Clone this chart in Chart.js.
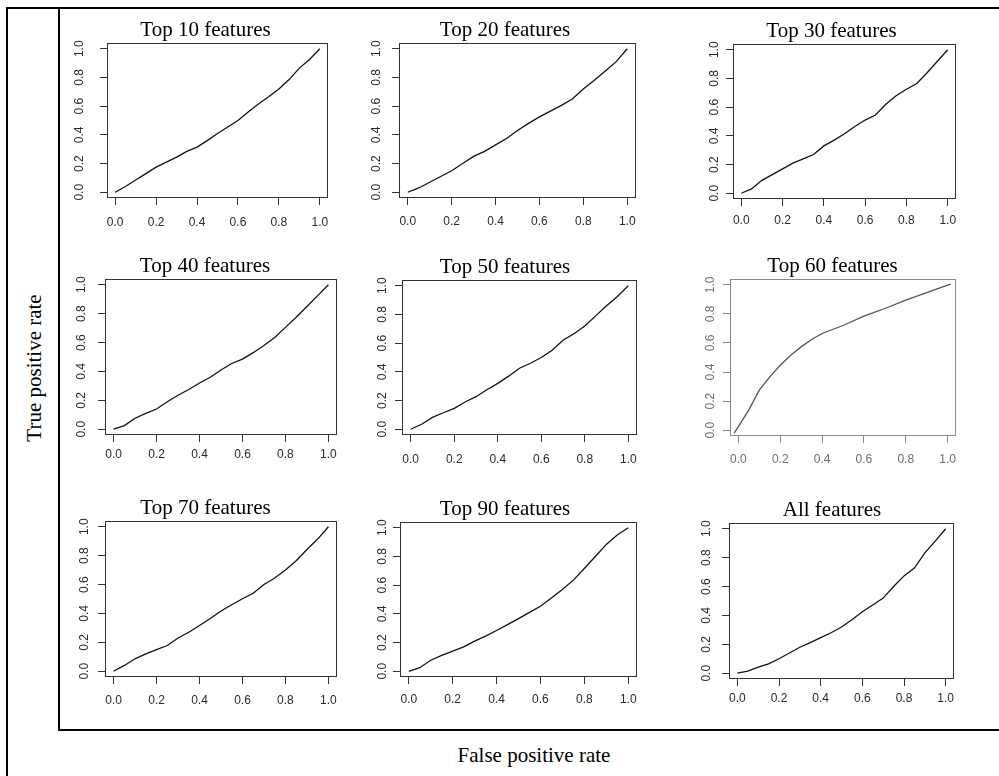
<!DOCTYPE html>
<html><head><meta charset="utf-8">
<script src="https://cdn.jsdelivr.net/npm/chart.js@4.4.1/dist/chart.umd.min.js"></script>
<style>
html,body{margin:0;padding:0;background:#fff;}
body{width:999px;height:776px;position:relative;overflow:hidden;}
.ln{position:absolute;background:#000;}
.cv{position:absolute;}
.lab{position:absolute;font-family:'Liberation Serif','Times New Roman',serif;font-size:21px;color:#000;white-space:nowrap;line-height:1;}
</style></head><body>
<div class="ln" style="left:6px;top:7px;width:993px;height:2px"></div>
<div class="ln" style="left:6px;top:7px;width:2px;height:769px"></div>
<div class="ln" style="left:58px;top:7px;width:2px;height:724px"></div>
<div class="ln" style="left:58px;top:729px;width:941px;height:2px"></div>
<div class="lab" style="left:33.5px;top:368px;transform:translate(-50%,-50%) rotate(-90deg)">True positive rate</div>
<div class="lab" style="left:534px;top:755px;transform:translate(-50%,-50%)">False positive rate</div>
<script>
// ---- data ----
const fpr = [0,0.05,0.1,0.15,0.2,0.25,0.3,0.35,0.4,0.45,0.5,0.55,0.6,0.65,0.7,0.75,0.8,0.85,0.9,0.95,1.0];
const tpr10 = [0,0.04,0.085,0.13,0.175,0.21,0.245,0.285,0.315,0.36,0.41,0.455,0.50,0.56,0.615,0.665,0.72,0.785,0.865,0.925,1.0];
const tpr20 = [0,0.03,0.07,0.11,0.15,0.20,0.25,0.285,0.33,0.375,0.43,0.48,0.525,0.565,0.605,0.65,0.72,0.78,0.845,0.91,1.0];
const tpr30 = [0,0.03,0.09,0.13,0.17,0.21,0.24,0.27,0.33,0.37,0.415,0.465,0.51,0.545,0.62,0.68,0.725,0.765,0.84,0.92,1.0];
const tpr40 = [0,0.025,0.076,0.11,0.14,0.19,0.235,0.275,0.32,0.36,0.41,0.455,0.485,0.53,0.58,0.635,0.705,0.775,0.85,0.925,1.0];
const tpr50 = [0,0.035,0.083,0.115,0.146,0.19,0.227,0.275,0.32,0.37,0.425,0.46,0.50,0.55,0.62,0.665,0.72,0.79,0.86,0.925,1.0];
const fpr60 = [-0.02,0,0.05,0.1,0.15,0.2,0.25,0.3,0.35,0.4,0.5,0.6,0.7,0.8,0.9,1.0,1.015];
const tpr60 = [-0.02,0.025,0.14,0.275,0.367,0.447,0.516,0.573,0.624,0.665,0.72,0.784,0.837,0.894,0.947,0.998,1.005];
const tpr70 = [0,0.04,0.086,0.12,0.15,0.178,0.23,0.27,0.317,0.365,0.417,0.46,0.502,0.54,0.60,0.645,0.70,0.765,0.843,0.915,1.0];
const tpr90 = [0,0.025,0.077,0.11,0.14,0.17,0.21,0.245,0.284,0.325,0.367,0.41,0.453,0.51,0.57,0.635,0.716,0.80,0.884,0.95,1.0];
const tprAll = [0,0.015,0.042,0.065,0.10,0.14,0.18,0.212,0.247,0.28,0.32,0.37,0.426,0.472,0.52,0.60,0.674,0.728,0.833,0.915,1.0];
const panelTitles = ['Top 10 features','Top 20 features','Top 30 features','Top 40 features','Top 50 features','Top 60 features','Top 70 features','Top 90 features','All features'];
const panelX = [fpr,fpr,fpr,fpr,fpr,fpr60,fpr,fpr,fpr];
const panelY = [tpr10,tpr20,tpr30,tpr40,tpr50,tpr60,tpr70,tpr90,tprAll];
const tickValues = [0,0.2,0.4,0.6,0.8,1.0];
const tickLabels = ['0.0','0.2','0.4','0.6','0.8','1.0'];

// ---- layout / style (not data) ----
const layoutSpec = [
  {bl:107,br:328,bt:43,bb:198,tc:205.5,yPad:11.7,xPad:10.1},
  {bl:399,br:636,bt:43,bb:198,tc:505,yPad:7.2,xPad:9.6},
  {bl:733,br:956,bt:44,bb:199,tc:831.5,yPad:3.2,xPad:7.8},
  {bl:105,br:337,bt:279,bb:435,tc:205,yPad:7.7,xPad:5.1},
  {bl:402,br:637,bt:280,bb:435,tc:505,yPad:4.2,xPad:10.1},
  {bl:730,br:956,bt:279,bb:436,tc:832.5,yPad:4.2,xPad:9.1,gray:true},
  {bl:105,br:337,bt:521,bb:677,tc:205.5,yPad:5.2,xPad:9.4},
  {bl:400,br:637,bt:522,bb:677,tc:505,yPad:2.2,xPad:8.4},
  {bl:729,br:954,bt:523,bb:679,tc:832,yPad:6.7,xPad:5.8}
];

const boxPlugin = {
  id:'box',
  beforeDatasetsDraw(chart, args, opts){
    const a = chart.chartArea, ctx = chart.ctx;
    ctx.save();
    ctx.strokeStyle = opts.color || '#333';
    ctx.lineWidth = 1;
    ctx.strokeRect(Math.round(a.left)+0.5, Math.round(a.top)+0.5, Math.round(a.right-a.left)-1, Math.round(a.bottom-a.top)-1);
    ctx.restore();
  }
};

const YW = 45, PADR = 10, TOPH = 40, BOTH = 40, TL = 7;
const tickFont = {family:"'Liberation Sans Narrow','Liberation Sans',Arial,sans-serif", size:12};

layoutSpec.forEach((L, i) => {
  const yAxisLeft = L.bl - YW;
  const y2W = Math.max(0, 2*L.tc - yAxisLeft - L.br);
  const cLeft = yAxisLeft;
  const cTop = L.bt - TOPH;
  const W = L.br + y2W + PADR - cLeft;
  const H = TOPH + (L.bb - L.bt) + BOTH;
  const cv = document.createElement('canvas');
  cv.className = 'cv';
  cv.width = W; cv.height = H;
  cv.style.left = cLeft + 'px'; cv.style.top = cTop + 'px';
  cv.style.width = W + 'px'; cv.style.height = H + 'px';
  document.body.appendChild(cv);
  const axisCol = L.gray ? '#8a8a8a' : '#333';
  const labCol = L.gray ? '#6e6e6e' : '#2a2a2a';
  const lineCol = L.gray ? '#555' : '#111';
  const pts = panelX[i].map((x, k) => ({x: x, y: panelY[i][k]}));
  const setTicks = s => { s.ticks = tickValues.map(v => ({value: v})); };
  new Chart(cv, {
    type: 'line',
    data: {datasets: [{data: pts, borderColor: lineCol, borderWidth: 1.3, pointRadius: 0, tension: 0, fill: false}]},
    options: {
      responsive: false, animation: false, devicePixelRatio: 1,
      layout: {padding: {left: 0, right: PADR, top: 0, bottom: 0}, autoPadding: false},
      plugins: {
        legend: {display: false}, tooltip: {enabled: false},
        title: {display: true, text: panelTitles[i], color: '#000',
                font: {family: "'Liberation Serif','Times New Roman',serif", size: 21, weight: 'normal', lineHeight: 1.2},
                padding: {top: 14.8, bottom: 0}},
        box: {color: axisCol}
      },
      scales: {
        x: {type: 'linear', min: -0.04, max: 1.04,
            afterBuildTicks: setTicks,
            afterFit: s => { s.height = BOTH; },
            grid: {drawOnChartArea: false, drawTicks: true, tickLength: TL, color: axisCol, lineWidth: 1},
            border: {display: false},
            ticks: {color: labCol, font: tickFont, padding: L.xPad, maxRotation: 0, minRotation: 0, autoSkip: false,
                    callback: (v, k) => tickLabels[k]}},
        y: {type: 'linear', position: 'left', min: -0.04, max: 1.04,
            afterBuildTicks: setTicks,
            afterFit: s => { s.width = YW; },
            grid: {drawOnChartArea: false, drawTicks: true, tickLength: TL, color: axisCol, lineWidth: 1},
            border: {display: false},
            ticks: {color: labCol, font: tickFont, padding: L.yPad, minRotation: 90, maxRotation: 90, crossAlign: 'center', autoSkip: false,
                    callback: (v, k) => tickLabels[k]}},
        ySpacer: {type: 'linear', position: 'right', display: true, min: 0, max: 1,
            afterFit: s => { s.width = y2W; },
            grid: {display: false, drawTicks: false}, border: {display: false},
            ticks: {display: false}}
      }
    },
    plugins: [boxPlugin]
  });
});
</script>
</body></html>
